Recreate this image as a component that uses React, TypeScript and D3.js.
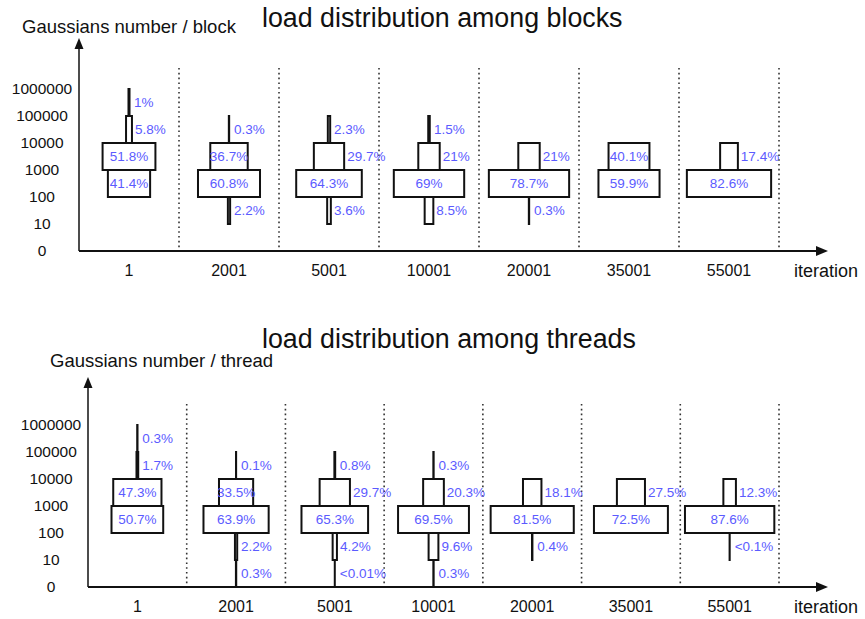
import * as d3 from 'd3';

// iterations on the x axis, count levels on the y axis
const iterations = ['1', '2001', '5001', '10001', '20001', '35001', '55001'];
const levels = ['0', '10', '100', '1000', '10000', '100000', '1000000'];

// share of blocks per band: [0-10, 10-100, 100-1k, 1k-10k, 10k-100k, 100k-1M]
const blockShares: (string | null)[][] = [
  [null, null, '41.4%', '51.8%', '5.8%', '1%'],
  [null, '2.2%', '60.8%', '36.7%', '0.3%', null],
  [null, '3.6%', '64.3%', '29.7%', '2.3%', null],
  [null, '8.5%', '69%', '21%', '1.5%', null],
  [null, '0.3%', '78.7%', '21%', null, null],
  [null, null, '59.9%', '40.1%', null, null],
  [null, null, '82.6%', '17.4%', null, null],
];

// share of threads per band
const threadShares: (string | null)[][] = [
  [null, null, '50.7%', '47.3%', '1.7%', '0.3%'],
  ['0.3%', '2.2%', '63.9%', '33.5%', '0.1%', null],
  ['<0.01%', '4.2%', '65.3%', '29.7%', '0.8%', null],
  ['0.3%', '9.6%', '69.5%', '20.3%', '0.3%', null],
  [null, '0.4%', '81.5%', '18.1%', null, null],
  [null, null, '72.5%', '27.5%', null, null],
  [null, '<0.1%', '87.6%', '12.3%', null, null],
];

const FONT = '"Liberation Sans", Arial, sans-serif';
const LABEL_COLOR = '#5b5bff';

interface PanelProps {
  shares: (string | null)[][];
  title: string;
  yLabel: string;
  axisX: number;
  axisY: number;
  lastSep: number;
  yTip: number;
  sepTop: number;
  titleY: number;
  yLabelX: number;
  yLabelY: number;
  xLabelY: number;
}

function Panel(p: PanelProps) {
  const x = d3.scaleBand<string>().domain(iterations).range([p.axisX, p.lastSep]);
  const y = d3.scalePoint<string>().domain(levels).range([p.axisY, p.axisY - 162]);
  const w = d3.scaleLinear().domain([0, 100]).range([0, 102]);
  const arrowEnd = 828;

  return (
    <g fontFamily={FONT}>
      <text x={262} y={p.titleY} fontSize={26.8} fill="#111">{p.title}</text>
      <text x={p.yLabelX} y={p.yLabelY} fontSize={18.5} fill="#111">{p.yLabel}</text>

      {/* separators */}
      {iterations.map(it => (
        <line key={it} x1={x(it)! + x.bandwidth()} x2={x(it)! + x.bandwidth()} y1={p.sepTop} y2={p.axisY}
          stroke="#333" strokeWidth={1.6} strokeDasharray="1.6,3.2" />
      ))}

      {/* boxes */}
      {p.shares.map((col, i) => {
        const cx = x(iterations[i])! + x.bandwidth() / 2;
        return col.map((lbl, b) => {
          if (!lbl) return null;
          const v = parseFloat(lbl.replace('<', ''));
          const bw = w(v);
          const y0 = y(levels[b])!;
          const y1 = y(levels[b + 1])!;
          const inside = v >= 33;
          const tx = inside ? cx : Math.max(cx + bw / 2 + 3, cx + 5);
          return (
            <g key={`${i}-${b}`}>
              <rect x={cx - bw / 2} y={y1} width={bw} height={y0 - y1} fill="#fff" stroke="#111" strokeWidth={2} />
              <text x={tx} y={(y0 + y1) / 2} dy="0.35em" fontSize={13.5} fill={LABEL_COLOR}
                textAnchor={inside ? 'middle' : 'start'}>{lbl}</text>
            </g>
          );
        });
      })}

      {/* y ticks */}
      {levels.map(l => (
        <text key={l} x={p.axisX - 37} y={y(l)!} dy="0.35em" fontSize={15.5} textAnchor="middle" fill="#111">{l}</text>
      ))}

      {/* x ticks */}
      {iterations.map(it => (
        <text key={it} x={x(it)! + x.bandwidth() / 2} y={p.xLabelY} fontSize={16} textAnchor="middle" fill="#111">{it}</text>
      ))}
      <text x={794} y={p.xLabelY + 1} fontSize={18} fill="#111">iteration</text>

      {/* axes */}
      <line x1={p.axisX} x2={p.axisX} y1={p.axisY} y2={p.yTip + 8} stroke="#111" strokeWidth={1.5} />
      <path d={`M${p.axisX},${p.yTip} L${p.axisX - 4.5},${p.yTip + 11} L${p.axisX + 4.5},${p.yTip + 11} Z`} fill="#111" />
      <line x1={p.axisX} x2={arrowEnd - 8} y1={p.axisY} y2={p.axisY} stroke="#111" strokeWidth={1.8} />
      <path d={`M${arrowEnd},${p.axisY} L${arrowEnd - 12},${p.axisY - 5} L${arrowEnd - 12},${p.axisY + 5} Z`} fill="#111" />
    </g>
  );
}

export default function App() {
  return (
    <svg width={865} height={619} style={{ position: 'fixed', left: 0, top: 0, background: '#fff' }}>
      <rect width={865} height={619} fill="#fff" />
      <Panel shares={blockShares} title="load distribution among blocks" yLabel="Gaussians number / block"
        axisX={79} axisY={251} lastSep={779} yTip={38} sepTop={68} titleY={27}
        yLabelX={22} yLabelY={33} xLabelY={276} />
      <Panel shares={threadShares} title="load distribution among threads" yLabel="Gaussians number / thread"
        axisX={88} axisY={587} lastSep={779} yTip={377} sepTop={404} titleY={348}
        yLabelX={50} yLabelY={367} xLabelY={612} />
    </svg>
  );
}
